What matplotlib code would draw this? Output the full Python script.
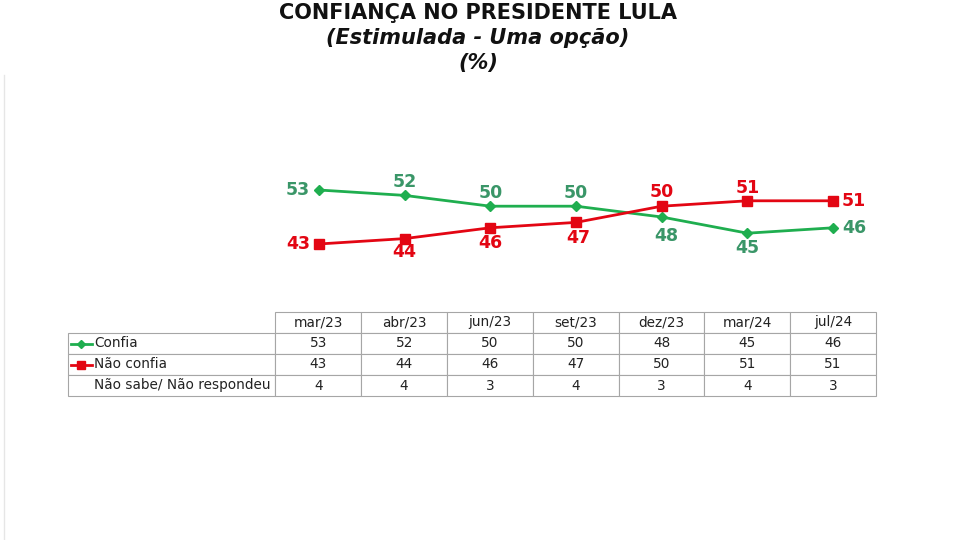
import matplotlib
matplotlib.use('Agg')
import matplotlib.pyplot as plt
from matplotlib.lines import Line2D

months = ['mar/23', 'abr/23', 'jun/23', 'set/23', 'dez/23', 'mar/24', 'jul/24']
confia = [53, 52, 50, 50, 48, 45, 46]
nao_confia = [43, 44, 46, 47, 50, 51, 51]
nao_sabe = [4, 4, 3, 4, 3, 4, 3]
row_labels = ['Confia', 'Não confia', 'Não sabe/ Não respondeu']

GREEN = '#1fae4f'
GREEN_TXT = '#3a9668'
RED = '#e30613'
GRID = '#a6a6a6'

# label offsets (pixels) per point
confia_off = [(-21, 0), (0, 13), (0, 13), (0, 13), (5, -19), (0, -15), (21, 0)]
nao_off = [(-21, 0), (0, -13), (0, -15), (2, -16), (0, 14), (0, 13), (21, 0)]

fig = plt.figure(figsize=(9.6, 5.4), dpi=100)
fig.patch.set_facecolor('white')


def px(x0, y0, x1, y1):
    return [x0 / 960, 1 - y1 / 540, (x1 - x0) / 960, (y1 - y0) / 540]


fig.text(0.498, 1 - 13 / 540, 'CONFIANÇA NO PRESIDENTE LULA', ha='center', va='center',
         fontsize=15, fontweight='bold', family='DejaVu Sans', color='#111111')
fig.text(0.498, 1 - 38 / 540, '(Estimulada - Uma opção)', ha='center', va='center',
         fontsize=15, fontweight='bold', style='italic', family='DejaVu Sans', color='#111111')
fig.text(0.498, 1 - 63 / 540, '(%)', ha='center', va='center',
         fontsize=15, fontweight='bold', style='italic', family='DejaVu Sans', color='#111111')

# faint left border
fig.add_artist(Line2D([4 / 960, 4 / 960], [0, 1 - 75 / 540], color='#e6e6e6', lw=1))

ax = fig.add_axes(px(276, 140, 876, 280))
ax.set_xlim(-0.5, 6.5)
ax.set_ylim(36.33, 62.26)
ax.axis('off')
x = list(range(len(months)))
ax.plot(x, confia, color=GREEN, lw=2, marker='D', ms=5, zorder=3)
ax.plot(x, nao_confia, color=RED, lw=2, marker='s', ms=7.5, zorder=3)
for i in x:
    dx, dy = confia_off[i]
    ax.annotate(str(confia[i]), (i, confia[i]), xytext=(dx, dy), textcoords='offset pixels',
                ha='center', va='center', fontsize=12.5, fontweight='bold', color=GREEN_TXT)
    dx, dy = nao_off[i]
    ax.annotate(str(nao_confia[i]), (i, nao_confia[i]), xytext=(dx, dy), textcoords='offset pixels',
                ha='center', va='center', fontsize=12.5, fontweight='bold', color=RED)

# table
tax = fig.add_axes(px(68, 312, 876, 396))
tax.set_xlim(0, 808)
tax.set_ylim(0, 84)
tax.axis('off')
cells = [[''] + months]
for lab, vals in zip(row_labels, [confia, nao_confia, nao_sabe]):
    cells.append([lab] + [str(v) for v in vals])
tbl = tax.table(cellText=cells, bbox=[0, 0, 1, 1],
                colWidths=[208 / 808] + [86 / 808] * 7, cellLoc='center')
tbl.auto_set_font_size(False)
for (r, c), cell in tbl.get_celld().items():
    cell.set_edgecolor(GRID)
    cell.set_linewidth(0.8)
    cell.get_text().set_fontsize(9.8)
    cell.get_text().set_color('#222222')
    if c == 0:
        cell._loc = 'left'
        cell.PAD = 26 / 208
        cell.get_text().set_ha('left')
    if r == 0 and c == 0:
        cell.visible_edges = 'open'

# legend keys in table
row_h = 84 / 4
tax.plot([3, 13, 24], [84 - row_h * 1.5] * 3, color=GREEN, lw=2, marker='D', ms=4,
         markevery=[1], zorder=5, clip_on=False)
tax.plot([3, 13, 24], [84 - row_h * 2.5] * 3, color=RED, lw=2, marker='s', ms=6,
         markevery=[1], zorder=5, clip_on=False)

fig.savefig('out.png', dpi=100, facecolor='white')
